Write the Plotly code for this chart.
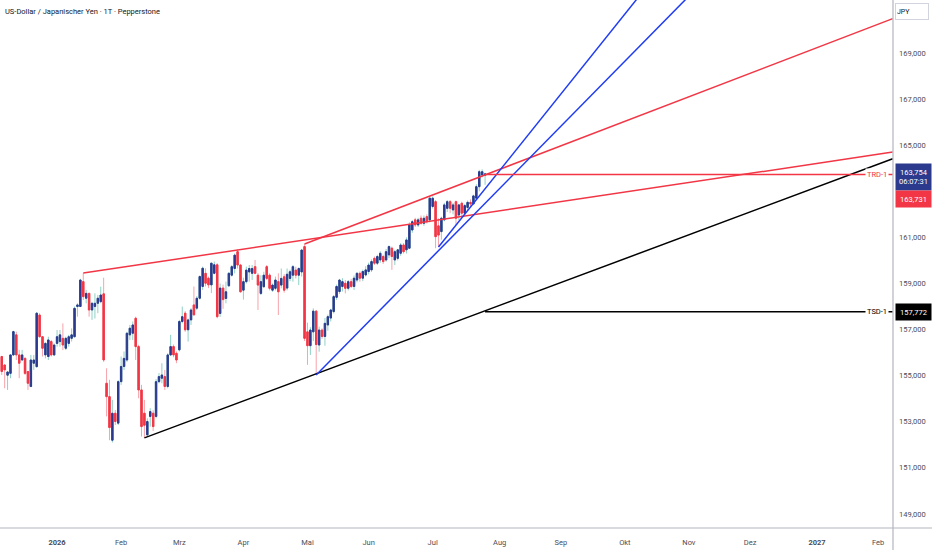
import numpy as np
import pandas as pd
import plotly.graph_objects as go

# daily USD/JPY bars (weekdays), Dec 5 2025 .. Jul 27 2026
dates = pd.bdate_range("2025-12-05", "2026-07-27")

opens = [
    # Dec
    155.83, 155.46, 155.02, 155.10, 155.90, 156.77, 155.90, 155.68, 155.75, 155.18,
    154.53, 155.54, 155.39, 157.63, 156.69, 155.90, 155.83, 156.48, 155.90,
    # Jan
    156.40, 156.48, 156.62, 156.19, 156.40, 156.62, 156.69, 158.00, 158.00, 159.08,
    158.36, 158.57, 157.85, 158.00, 158.14, 158.21, 158.55, 154.67, 154.09, 152.20,
    153.37, 152.94,
    # Feb
    154.74, 155.40, 155.68, 156.77, 156.84, 157.49, 156.26, 154.38, 153.37, 152.43,
    153.23, 153.37, 153.23, 154.74, 154.89, 154.96, 154.53, 155.90, 156.26, 155.97,
    # Mar
    156.12, 157.35, 157.71, 156.99, 157.42, 158.07, 157.93, 158.36, 158.87, 159.44,
    159.23, 158.94, 159.44, 159.81, 157.70, 158.80, 158.35, 158.90, 159.36, 159.65,
    160.38, 159.80,
    # Apr
    158.71, 159.08, 159.50, 159.44, 159.73, 159.36, 158.57, 158.86, 159.73, 159.36,
    158.71, 158.79, 159.08, 158.93, 159.29, 158.80, 159.22, 159.36, 159.58, 159.36,
    159.50, 160.60,
    # May
    156.90, 156.30, 156.90, 157.80, 156.33, 156.98, 156.70, 157.20, 157.50, 157.78,
    158.40, 158.65, 158.87, 159.01, 158.79, 159.08, 158.87, 159.15, 159.44, 159.23,
    159.37,
    # Jun
    159.52, 159.59, 160.09, 159.88, 160.02, 160.17, 160.02, 160.24, 160.53, 160.02,
    160.09, 160.31, 160.67, 160.46, 160.53, 161.32, 161.76, 161.54, 161.83, 161.61,
    161.90, 161.76,
    # Jul
    162.34, 162.55, 161.50, 161.25, 161.76, 162.26, 162.55, 162.19, 162.55, 161.97,
    162.48, 162.05, 162.30, 162.52, 162.45, 162.70, 163.20, 163.71, 163.70,
]

highs = [
    155.86, 155.50, 155.18, 155.92, 156.95, 156.91, 156.12, 156.12, 155.80, 155.20,
    155.90, 155.90, 157.75, 157.71, 156.72, 156.45, 156.69, 156.55, 156.40,
    156.98, 156.98, 157.27, 156.69, 156.77, 157.05, 158.00, 158.14, 159.20, 159.45,
    158.72, 158.60, 158.20, 158.57, 158.50, 158.86, 159.25, 155.32, 154.82, 153.95,
    153.51, 154.80,
    155.83, 156.05, 156.90, 157.20, 157.35, 157.56, 156.34, 154.60, 153.95, 153.15,
    153.59, 153.50, 154.85, 155.11, 155.54, 155.25, 155.97, 156.77, 156.35, 156.05,
    157.42, 158.00, 157.80, 157.48, 157.93, 158.87, 158.45, 159.35, 159.73, 159.66,
    159.30, 159.90, 159.95, 159.88, 159.00, 158.95, 159.08, 159.50, 159.80, 160.30,
    160.48, 159.85,
    159.25, 159.73, 159.80, 159.80, 160.02, 159.45, 159.36, 159.51, 159.80, 159.44,
    159.00, 159.30, 159.44, 159.65, 159.40, 159.65, 159.60, 159.80, 159.73, 159.70,
    160.50, 160.71,
    157.30, 157.10, 157.92, 157.85, 157.13, 157.05, 157.50, 157.65, 157.90, 158.50,
    158.95, 159.20, 159.23, 159.15, 159.15, 159.20, 159.35, 159.50, 159.52, 159.60,
    159.75,
    159.90, 160.05, 160.17, 160.25, 160.40, 160.25, 160.50, 160.65, 160.60, 160.46,
    160.50, 160.75, 160.75, 161.00, 161.65, 161.75, 161.85, 161.85, 161.95, 161.95,
    162.00, 162.75,
    162.78, 162.62, 161.83, 161.90, 162.50, 162.62, 162.62, 162.50, 162.60, 162.45,
    162.55, 162.45, 162.60, 162.65, 162.85, 163.30, 163.93, 163.95, 163.80,
]

lows = [
    155.03, 154.45, 154.38, 154.89, 155.85, 155.68, 154.89, 155.65, 155.03, 154.38,
    154.50, 155.25, 155.35, 156.65, 155.83, 155.75, 155.68, 155.83, 155.85,
    156.26, 156.26, 156.11, 156.11, 156.26, 156.48, 156.65, 157.56, 157.98, 158.28,
    158.14, 157.56, 157.42, 157.48, 157.71, 158.14, 155.60, 153.23, 152.20, 152.10,
    152.86, 152.86,
    154.60, 155.25, 155.60, 156.55, 156.55, 155.68, 154.02, 152.36, 152.30, 152.36,
    152.79, 152.60, 153.15, 154.67, 154.67, 154.38, 154.45, 155.85, 155.80, 155.54,
    156.05, 157.27, 156.90, 156.48, 157.20, 157.60, 157.85, 158.30, 158.72, 158.87,
    158.80, 158.58, 159.40, 157.49, 157.55, 157.90, 158.14, 158.85, 159.30, 159.44,
    159.65, 158.60,
    158.30, 159.00, 159.08, 159.15, 159.40, 157.85, 158.50, 158.80, 159.15, 158.70,
    158.64, 158.70, 157.63, 158.79, 158.60, 158.70, 159.10, 159.08, 159.22, 158.93,
    159.30, 156.50,
    155.47, 155.90, 156.50, 155.03, 156.04, 156.60, 156.30, 156.95, 157.35, 157.70,
    158.29, 158.55, 158.65, 158.57, 158.70, 158.80, 158.72, 159.05, 159.08, 159.10,
    159.30,
    159.40, 159.50, 159.80, 159.80, 159.90, 159.85, 159.95, 160.10, 159.59, 159.80,
    160.00, 160.20, 160.30, 160.30, 160.50, 161.20, 161.45, 161.45, 161.55, 161.50,
    161.60, 161.65,
    162.25, 160.53, 160.58, 160.90, 161.70, 162.10, 162.05, 162.00, 161.54, 161.75,
    161.90, 162.00, 162.15, 162.32, 162.45, 162.62, 163.00, 163.60, 163.28,
]

closes = [
    155.18, 155.25, 155.16, 155.90, 156.91, 155.90, 155.54, 155.90, 155.10, 154.67,
    155.68, 155.68, 157.71, 156.69, 156.19, 156.40, 156.55, 155.90, 156.33,
    156.69, 156.77, 156.33, 156.62, 156.69, 156.77, 157.92, 158.07, 159.15, 158.43,
    158.57, 157.85, 158.14, 158.14, 158.36, 158.50, 155.68, 154.09, 152.75, 153.37,
    153.01, 154.74,
    155.40, 155.75, 156.84, 157.06, 157.20, 156.26, 154.38, 152.79, 152.85, 153.01,
    153.44, 152.79, 154.74, 154.96, 155.03, 154.53, 155.90, 156.26, 155.90, 155.68,
    157.35, 157.56, 156.99, 157.42, 157.85, 157.64, 158.36, 159.30, 159.66, 159.01,
    158.94, 159.88, 159.81, 157.56, 158.80, 158.30, 158.64, 159.44, 159.73, 160.23,
    159.80, 158.64,
    159.08, 159.58, 159.65, 159.65, 159.44, 158.93, 159.08, 159.36, 159.22, 158.79,
    158.93, 159.15, 158.64, 159.22, 158.71, 159.40, 159.51, 159.73, 159.36, 159.65,
    160.45, 156.62,
    156.30, 156.98, 157.80, 156.35, 156.98, 156.70, 157.27, 157.56, 157.85, 158.43,
    158.87, 159.15, 159.08, 158.79, 159.08, 158.87, 159.23, 159.44, 159.23, 159.52,
    159.59,
    159.80, 159.95, 159.88, 160.17, 160.31, 159.95, 160.38, 160.60, 160.17, 160.38,
    160.46, 160.67, 160.38, 160.89, 161.54, 161.68, 161.54, 161.76, 161.61, 161.83,
    161.68, 162.70,
    162.70, 161.03, 161.10, 161.83, 162.41, 162.55, 162.26, 162.41, 161.83, 162.41,
    162.05, 162.38, 162.52, 162.45, 162.80, 163.20, 163.85, 163.85, 163.754,
]

# drawn trend lines: anchor dates and prices
right_edge = "2027-02-08"
red_a_x, red_a_y = ["2026-01-14", right_edge], [159.45, 164.70]
red_b_x, red_b_y = ["2026-04-30", right_edge], [160.71, 170.49]
black_x, black_y = ["2026-02-12", right_edge], [152.30, 164.41]
blue_a_x, blue_a_y = ["2026-05-06", "2026-10-30"], [155.03, 171.34]
blue_b_x, blue_b_y = ["2026-07-03", "2026-10-07"], [160.58, 171.32]
trd_price = 163.731
tsd_price = 157.772
last_price = 163.754
countdown = "06:07:31"

month_vals = ["2026-01-01", "2026-02-02", "2026-03-02", "2026-04-01", "2026-05-01",
              "2026-06-01", "2026-07-01", "2026-08-03", "2026-09-01", "2026-10-01",
              "2026-11-02", "2026-12-01", "2027-01-01", "2027-02-01"]
month_text = ["<b>2026</b>", "Feb", "Mrz", "Apr", "Mai", "Jun", "Jul", "Aug", "Sep",
              "Okt", "Nov", "Dez", "<b>2027</b>", "Feb"]
price_ticks = [149, 151, 153, 155, 157, 159, 161, 165, 167, 169]


def de_num(v):
    return f"{v:,.3f}".replace(".", ",")


UP_BODY = "#2c3a8e"
UP_WICK = "#8fd1c6"
DN_BODY = "#f23645"
DN_WICK = "#f6a3aa"
BLUE = "#1f3cf0"
FONT = "Roboto"

o = np.array(opens)
c = np.array(closes)

fig = go.Figure()

# wicks (full range, light colours)
fig.add_trace(go.Candlestick(
    x=dates, open=opens, high=highs, low=lows, close=closes,
    increasing=dict(line=dict(color=UP_WICK, width=1), fillcolor=UP_WICK),
    decreasing=dict(line=dict(color=DN_WICK, width=1), fillcolor=DN_WICK),
    hoverinfo="skip", showlegend=False,
))
# bodies on top
fig.add_trace(go.Candlestick(
    x=dates, open=opens, high=np.maximum(o, c), low=np.minimum(o, c), close=closes,
    increasing=dict(line=dict(color=UP_BODY, width=1), fillcolor=UP_BODY),
    decreasing=dict(line=dict(color=DN_BODY, width=1), fillcolor=DN_BODY),
    hoverinfo="skip", showlegend=False,
))


def seg(xs, ys, color, width=1.5):
    fig.add_trace(go.Scatter(x=xs, y=ys, mode="lines", line=dict(color=color, width=width),
                             hoverinfo="skip", showlegend=False))


seg(red_a_x, red_a_y, DN_BODY)
seg(red_b_x, red_b_y, DN_BODY)
seg(black_x, black_y, "black")
seg(blue_a_x, blue_a_y, BLUE)
seg(blue_b_x, blue_b_y, BLUE)
seg([dates[-1], right_edge], [trd_price, trd_price], DN_BODY)
seg([dates[-1], right_edge], [tsd_price, tsd_price], "black")

annots = [
    dict(text="US-Dollar / Japanischer Yen · 1T · Pepperstone", xref="paper", yref="paper",
         x=0, y=1, xanchor="left", yanchor="top", xshift=3, yshift=-5,
         font=dict(size=7.5, color="#131722"), showarrow=False),
    dict(text="JPY", xref="paper", yref="paper", x=1, y=1, xanchor="left", yanchor="top",
         xshift=2, yshift=-3, width=30, height=13, align="left",
         bordercolor="#d1d4dc", borderwidth=1, bgcolor="white",
         font=dict(size=7, color="#131722"), showarrow=False),
    dict(text=de_num(last_price) + "<br>" + countdown, xref="paper", yref="y", x=1, y=last_price,
         xanchor="left", yanchor="middle", xshift=2, yshift=-3.5, width=33, height=24,
         bgcolor=UP_BODY, font=dict(size=7.5, color="white"), showarrow=False),
    dict(text=de_num(trd_price), xref="paper", yref="y", x=1, y=trd_price,
         xanchor="left", yanchor="middle", xshift=2, yshift=-24.5, width=33, height=14,
         bgcolor=DN_BODY, font=dict(size=7.5, color="white"), showarrow=False),
    dict(text=de_num(tsd_price), xref="paper", yref="y", x=1, y=tsd_price,
         xanchor="left", yanchor="middle", xshift=2, width=33, height=14,
         bgcolor="black", font=dict(size=7.5, color="white"), showarrow=False),
    dict(text="TRD-1", xref="paper", yref="y", x=1, y=trd_price, xanchor="right",
         yanchor="middle", xshift=-4, bgcolor="white", borderpad=1,
         font=dict(size=7.5, color=DN_BODY), showarrow=False),
    dict(text="TSD-1", xref="paper", yref="y", x=1, y=tsd_price, xanchor="right",
         yanchor="middle", xshift=-4, bgcolor="white", borderpad=1,
         font=dict(size=7.5, color="black"), showarrow=False),
]

fig.update_layout(
    width=932, height=550,
    margin=dict(l=0, r=39, t=0, b=22),
    paper_bgcolor="white", plot_bgcolor="white",
    font=dict(family=FONT, size=7.5, color="#4a4d57"),
    showlegend=False,
    annotations=annots,
    shapes=[
        dict(type="line", xref="paper", yref="paper", x0=1, x1=1, y0=-0.06, y1=1,
             line=dict(color="#b2b5be", width=1.2)),
        dict(type="line", xref="paper", yref="paper", x0=0, x1=1.05, y0=0, y1=0,
             line=dict(color="#b2b5be", width=1.2)),
    ],
    xaxis=dict(
        type="date", range=["2025-12-04 09:36", "2027-02-08 02:24"],
        rangebreaks=[dict(bounds=["sat", "mon"])],
        rangeslider=dict(visible=False),
        tickvals=month_vals, ticktext=month_text, ticks="",
        ticklabelstandoff=8, showgrid=False, zeroline=False, showline=False,
        tickfont=dict(size=7.5, color="#4a4d57"), automargin=False,
    ),
    yaxis=dict(
        side="right", range=[148.39, 171.30],
        tickvals=price_ticks, ticktext=[de_num(v) for v in price_ticks], ticks="",
        ticklabelstandoff=5, showgrid=False, zeroline=False, showline=False,
        tickfont=dict(size=7.5, color="#4a4d57"), automargin=False,
    ),
)

# the page body has a default 8px margin; drop it so the figure sits at the window corner
fig.write_html(
    "out.html",
    config={"displayModeBar": False},
    post_script="document.body.style.margin='0';document.body.style.overflow='hidden';",
)
